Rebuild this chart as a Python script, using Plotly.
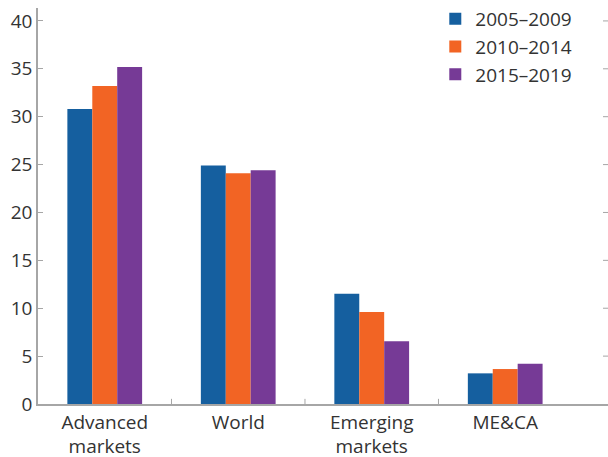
import plotly.graph_objects as go

categories = ["Advanced<br>markets", "World", "Emerging<br>markets", "ME&CA"]
series_names = ["2005–2009", "2010–2014", "2015–2019"]
v_2005_2009 = [30.8, 24.9, 11.5, 3.2]
v_2010_2014 = [33.2, 24.1, 9.6, 3.65]
v_2015_2019 = [35.2, 24.4, 6.55, 4.2]
colors = ["#155f9f", "#f26424", "#763a96"]
y_ticks = [0, 5, 10, 15, 20, 25, 30, 35, 40]

FONT = "Open Sans"
TXT = "#333333"
GRID = "#a6a6a6"

fig = go.Figure()
for name, vals, col in zip(series_names, [v_2005_2009, v_2010_2014, v_2015_2019], colors):
    fig.add_trace(go.Bar(x=categories, y=vals, name=name, marker=dict(color=col, line=dict(width=0))))

fig.update_layout(
    width=608, height=457,
    margin=dict(l=38, r=0, t=7, b=53),
    paper_bgcolor="white", plot_bgcolor="white",
    barmode="group", bargap=0.44, bargroupgap=0,
    font=dict(family=FONT, size=19, color=TXT),
    showlegend=True,
    legend=dict(x=0.697, y=1.02, xanchor="left", yanchor="top",
                bgcolor="rgba(0,0,0,0)", font=dict(size=19, color=TXT),
                itemsizing="constant", tracegroupgap=0),
    xaxis=dict(type="category", range=[-0.5, 3.77], showgrid=False, automargin=False,
               showline=True, linecolor=GRID, linewidth=1.5,
               ticks="", tickfont=dict(size=19, color=TXT)),
    yaxis=dict(range=[0, 41.35], tickvals=y_ticks, showgrid=False, zeroline=False, automargin=False,
               showline=True, linecolor=GRID, linewidth=1.5,
               ticks="inside", ticklen=5, tickcolor=GRID, tickwidth=1,
               tickfont=dict(size=19, color=TXT)),
)

# category separator ticks on the x axis
for b in [0.5, 1.5, 2.5]:
    fig.add_shape(type="line", xref="x", yref="paper", x0=b, x1=b, y0=0, y1=0.013,
                  line=dict(color=GRID, width=1))
# tick marks on the right edge
for t in y_ticks[1:]:
    fig.add_shape(type="line", xref="paper", yref="y", x0=1 - 5 / 570, x1=1, y0=t, y1=t,
                  line=dict(color=GRID, width=1))

fig.write_html("out.html",
               config={"displayModeBar": False},
               post_script="document.body.style.margin='0px';document.body.style.overflow='hidden';")
